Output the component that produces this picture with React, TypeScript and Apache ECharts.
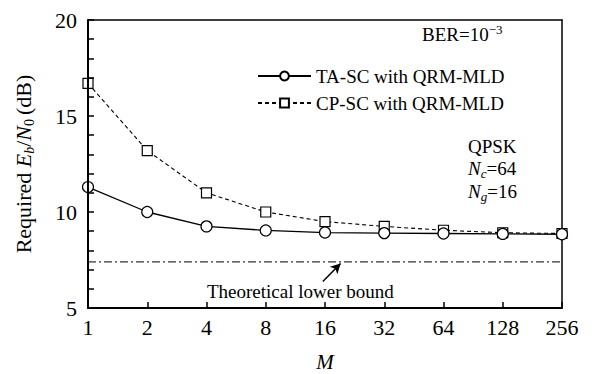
import React, { useEffect, useRef } from "react";
import * as echarts from "echarts";

const mValues = [1, 2, 4, 8, 16, 32, 64, 128, 256];
const taSc = [11.3, 10.0, 9.25, 9.04, 8.93, 8.9, 8.88, 8.86, 8.84];
const cpSc = [16.7, 13.2, 11.0, 10.0, 9.5, 9.25, 9.05, 8.92, 8.88];
const lowerBound = 7.4;
const yTicks = [5, 10, 15, 20];
const seriesNames = ["TA-SC with QRM-MLD", "CP-SC with QRM-MLD"];
const arrowTail = [15.6, 6.38];
const arrowTip = [19.2, 7.32];

const FONT = "Liberation Serif";

export default function App() {
  const ref = useRef<HTMLDivElement>(null);
  useEffect(() => {
    if (!ref.current) return;
    const chart = echarts.init(ref.current, null, { renderer: "svg" });
    const pair = (ys: number[]) => mValues.map((m, i) => [m, ys[i]]);
    const base = { fontFamily: FONT, color: "#000" };
    const frameAxis = {
      axisLine: { show: true, lineStyle: { color: "#000", width: 1.5 } },
      axisTick: { show: false },
      axisLabel: { show: false },
      splitLine: { show: false },
    };
    chart.setOption({
      animation: false,
      grid: {
        left: 88,
        right: 33,
        top: 20,
        bottom: 66,
        outerBoundsMode: "none",
        show: false,
      },
      legend: {
        data: seriesNames,
        orient: "vertical",
        left: 252,
        top: 61,
        itemWidth: 53,
        itemHeight: 11,
        itemGap: 7,
        textStyle: { ...base, fontSize: 19, lineHeight: 20 },
      },
      xAxis: [
        {
          type: "log",
          logBase: 2,
          min: mValues[0],
          max: mValues[mValues.length - 1],
          interval: 1,
          position: "bottom",
          name: "M",
          nameLocation: "middle",
          nameGap: 45,
          nameTextStyle: { ...base, fontSize: 21, fontStyle: "italic", lineHeight: 18 },
          axisLine: { show: true, onZero: false, lineStyle: { color: "#000", width: 2 } },
          axisTick: { show: true, inside: true, length: 6, lineStyle: { color: "#000", width: 1.5 } },
          splitLine: { show: false },
          axisLabel: {
            ...base,
            fontSize: 22,
            margin: 8,
            formatter: (v: number) => String(Math.round(v)),
          },
          z: 5,
        },
        {
          type: "log",
          logBase: 2,
          min: mValues[0],
          max: mValues[mValues.length - 1],
          interval: 1,
          position: "top",
          ...frameAxis,
        },
      ],
      yAxis: [
        {
          type: "value",
          min: yTicks[0],
          max: yTicks[yTicks.length - 1],
          interval: 5,
          position: "left",
          name: "{n|Required }{i|E}{sb|b}{n|/}{i|N}{s0|0}{n|(dB)}",
          nameLocation: "middle",
          nameRotate: 90,
          nameGap: 52,
          nameTextStyle: {
            ...base,
            fontSize: 22,
            rich: {
              n: { ...base, fontSize: 22, lineHeight: 26 },
              i: { ...base, fontSize: 22, fontStyle: "italic", lineHeight: 26 },
              sb: { ...base, fontSize: 14, fontStyle: "italic", verticalAlign: "bottom", lineHeight: 14 },
              s0: { ...base, fontSize: 14, verticalAlign: "bottom", lineHeight: 14, padding: [0, 4, 0, 0] },
            },
          },
          axisLine: { show: true, onZero: false, lineStyle: { color: "#000", width: 2 } },
          axisTick: { show: true, inside: true, length: 6, lineStyle: { color: "#000", width: 1.5 } },
          minorTick: { show: true, splitNumber: 5, length: 6, lineStyle: { color: "#000", width: 1.5 } },
          splitLine: { show: false },
          axisLabel: { ...base, fontSize: 22, margin: 11 },
          z: 5,
        },
        {
          type: "value",
          min: yTicks[0],
          max: yTicks[yTicks.length - 1],
          interval: 5,
          position: "right",
          ...frameAxis,
        },
      ],
      series: [
        {
          name: seriesNames[0],
          type: "line",
          data: pair(taSc),
          symbol: "circle",
          symbolSize: 11,
          lineStyle: { color: "#000", width: 1.3, type: "solid" },
          itemStyle: { color: "#fff", borderColor: "#000", borderWidth: 1.2 },
          z: 3,
        },
        {
          name: seriesNames[1],
          type: "line",
          data: pair(cpSc),
          symbol: "rect",
          symbolSize: 10,
          lineStyle: { color: "#000", width: 1.1, type: [4, 3] },
          itemStyle: { color: "#fff", borderColor: "#000", borderWidth: 1.2 },
          z: 2,
        },
        {
          name: "bound",
          type: "line",
          data: [
            [mValues[0], lowerBound],
            [mValues[mValues.length - 1], lowerBound],
          ],
          symbol: "none",
          lineStyle: { color: "#000", width: 1, type: [8, 3, 2, 3] },
          markLine: {
            silent: true,
            symbol: ["none", "arrow"],
            symbolSize: [8, 10],
            label: { show: false },
            lineStyle: { color: "#000", width: 1.5, type: "solid" },
            data: [[{ coord: arrowTail }, { coord: arrowTip }]],
          },
          z: 1,
        },
      ],
      graphic: [
        {
          type: "text",
          left: 422,
          top: 23,
          style: {
            text: "{n|BER=10}{sp|−3}",
            rich: {
              n: { ...base, fontSize: 19, lineHeight: 22 },
              sp: { ...base, fontSize: 13, verticalAlign: "top", lineHeight: 13 },
            },
          },
        },
        {
          type: "text",
          left: 468,
          top: 137,
          style: { text: "QPSK", font: `19px ${FONT}`, fill: "#000" },
        },
        {
          type: "text",
          left: 468,
          top: 159,
          style: {
            text: "{i|N}{s|c}{n|=64}",
            rich: {
              i: { ...base, fontSize: 19, fontStyle: "italic", lineHeight: 22 },
              s: { ...base, fontSize: 13, fontStyle: "italic", verticalAlign: "bottom", lineHeight: 13 },
              n: { ...base, fontSize: 19, lineHeight: 22 },
            },
          },
        },
        {
          type: "text",
          left: 468,
          top: 182,
          style: {
            text: "{i|N}{s|g}{n|=16}",
            rich: {
              i: { ...base, fontSize: 19, fontStyle: "italic", lineHeight: 22 },
              s: { ...base, fontSize: 13, fontStyle: "italic", verticalAlign: "bottom", lineHeight: 13 },
              n: { ...base, fontSize: 19, lineHeight: 22 },
            },
          },
        },
        {
          type: "text",
          left: 207,
          top: 282,
          style: { text: "Theoretical lower bound", font: `19px ${FONT}`, fill: "#000" },
        },
      ],
    });
    return () => chart.dispose();
  }, []);
  return (
    <div
      ref={ref}
      style={{ position: "absolute", left: 0, top: 0, width: 595, height: 374, background: "#fff" }}
    />
  );
}
